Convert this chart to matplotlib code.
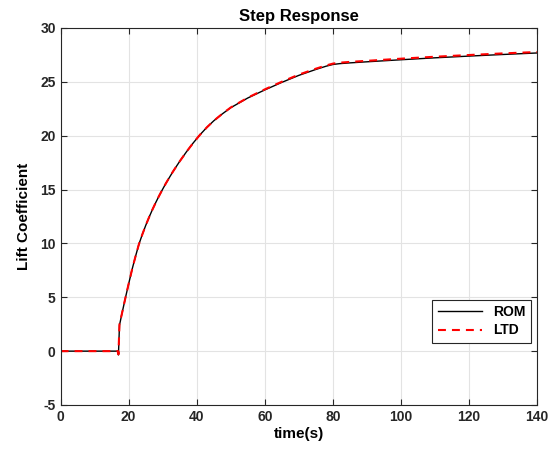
import matplotlib
matplotlib.use("Agg")
import matplotlib.pyplot as plt

plt.rcParams["font.family"] = ["Liberation Sans", "DejaVu Sans"]
plt.rcParams["font.weight"] = "bold"
plt.rcParams["axes.unicode_minus"] = False

# values (time in s, lift coefficient)
t_rom = [0, 16.9, 17.0, 17.3, 18, 19, 20, 21, 22, 23, 24, 25, 26, 27, 28, 29,
         30, 31, 33, 35, 37, 39, 41, 43, 45, 47.5, 50, 55, 60, 65, 70, 75, 78,
         80, 82, 85, 90, 100, 110, 120, 130, 140]
cl_rom = [0, 0, -0.35, 2.4, 3.45, 4.88, 6.25, 7.58, 8.78, 9.91, 10.82, 11.66,
          12.43, 13.15, 13.82, 14.45, 15.04, 15.61, 16.66, 17.62, 18.51, 19.34,
          20.1, 20.78, 21.38, 22.02, 22.6, 23.5, 24.25, 24.95, 25.6, 26.15,
          26.45, 26.61, 26.69, 26.76, 26.86, 27.05, 27.23, 27.39, 27.54, 27.68]

t_ltd = [0, 16.9, 17.0, 17.3, 18, 19, 20, 21, 22, 23, 24, 25, 26, 27, 28, 29,
         30, 31, 33, 35, 37, 39, 41, 43, 45, 47.5, 50, 55, 60, 65, 70, 75, 78,
         80, 82, 85, 90, 100, 110, 120, 130, 140]
cl_ltd = [0, 0, -0.3, 2.5, 3.45, 4.88, 6.25, 7.58, 8.78, 9.91, 10.82, 11.66,
          12.43, 13.15, 13.82, 14.45, 15.04, 15.61, 16.66, 17.62, 18.51, 19.34,
          20.1, 20.78, 21.38, 22.03, 22.62, 23.53, 24.3, 25.01, 25.67, 26.22,
          26.52, 26.69, 26.78, 26.85, 26.95, 27.15, 27.33, 27.49, 27.64, 27.77]

fig = plt.figure(figsize=(5.57, 4.55), dpi=100)
ax = fig.add_axes([0.1088, 0.1099, 0.8553, 0.8286])

ax.plot(t_rom, cl_rom, color="black", lw=1.0, label="ROM")
ax.plot(t_ltd, cl_ltd, color="red", lw=1.5, ls=(0, (3.8, 2.9)), label="LTD")

ax.set_xlim(0, 140)
ax.set_ylim(-5, 30)
ax.set_xticks(range(0, 141, 20))
ax.set_yticks(range(-5, 31, 5))
ax.grid(True, color="#e3e3e3", lw=0.8)
ax.set_axisbelow(True)
ax.tick_params(direction="in", top=True, right=True, labelsize=10,
               colors="#262626", length=4, width=0.8)
for s in ax.spines.values():
    s.set_color("#262626")
    s.set_linewidth(0.8)

ax.set_title("Step Response", fontsize=12, fontweight="bold", pad=5)
ax.set_xlabel("time(s)", fontsize=11, fontweight="bold", labelpad=2)
ax.set_ylabel("Lift Coefficient", fontsize=11, fontweight="bold", labelpad=7)

leg = ax.legend(loc="lower right", bbox_to_anchor=(0.988, 0.1645), fontsize=10,
                fancybox=False, edgecolor="#262626", framealpha=1,
                handlelength=3.2, borderpad=0.4, labelspacing=0.3,
                borderaxespad=0)
leg.get_frame().set_linewidth(0.8)

fig.savefig("out.png", dpi=100)
